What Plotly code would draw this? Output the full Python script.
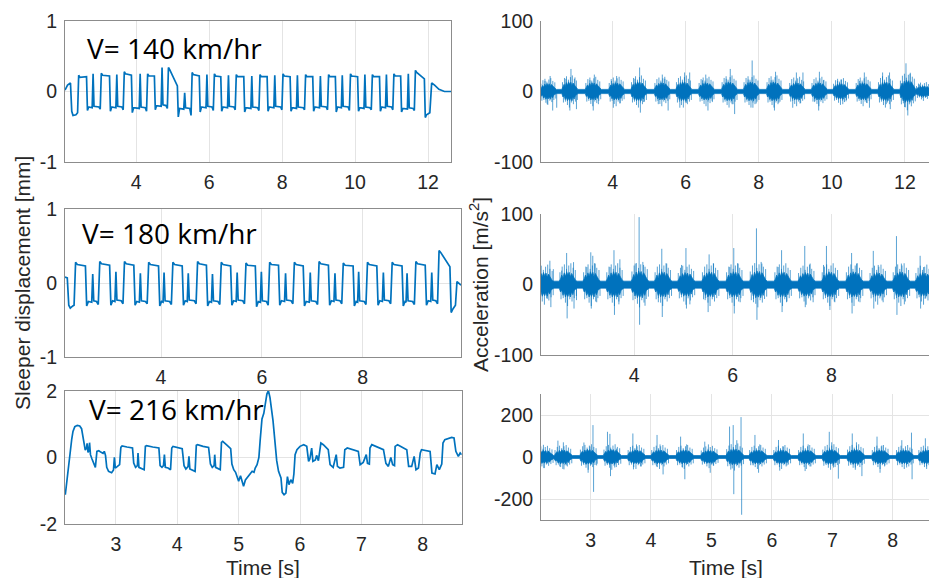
import plotly.graph_objects as go

# ------------------------------------------------------------------ data
# tick values
xt_top = [4, 6, 8, 10, 12]
xt_mid = [4, 6, 8]
xt_bot = [3, 4, 5, 6, 7, 8]
yt_disp12 = [-1, 0, 1]
yt_disp3 = [-2, 0, 2]
yt_acc12 = [-100, 0, 100]
yt_acc3 = [-200, 0, 200]

speed_labels = ["V= 140 km/hr", "V= 180 km/hr", "V= 216 km/hr"]

# --- sleeper displacement, V = 140 km/hr (mm)
d1_head_t = [2.05, 2.12, 2.20, 2.235, 2.27, 2.35, 2.395]
d1_head_v = [0.02, 0.09, 0.12, -0.28, -0.34, -0.33, -0.30]
d1_rise = [2.41, 3.03, 3.66, 4.30, 4.87, 5.52, 6.13, 6.73, 7.38, 8.01, 8.63, 9.26, 9.86, 10.46, 11.05, 11.64]
d1_drop = [2.64, 3.27, 3.87, 4.50, 5.13, 5.73, 6.32, 6.95, 7.59, 8.22, 8.84, 9.46, 10.07, 10.67, 11.25, 11.90]
d1_top = [0.20, 0.23, 0.25, 0.22, 0.31, 0.24, 0.22, 0.21, 0.21, 0.22, 0.21, 0.21, 0.22, 0.21, 0.22, 0.27]
d1_top_end = [0.21, 0.22, 0.23, 0.22, 0.08, 0.22, 0.21, 0.21, 0.21, 0.21, 0.21, 0.21, 0.21, 0.21, 0.22, 0.18]
d1_dip = [-0.27, -0.28, -0.30, -0.26, -0.36, -0.29, -0.28, -0.29, -0.28, -0.28, -0.28, -0.29, -0.28, -0.28, -0.29, -0.37]
d1_low = [-0.22, -0.22, -0.23, -0.20, -0.24, -0.22, -0.22, -0.23, -0.22, -0.23, -0.22, -0.22, -0.23, -0.22, -0.24, -0.33]
d1_spike_t = [2.82, 3.47, 4.11, 4.71, 5.33, 5.94, 6.53, 7.17, 7.80, 8.42, 9.05, 9.65, 10.27, 10.86, 11.46]
d1_spike_v = [0.25, 0.24, 0.25, 0.34, -0.02, 0.24, 0.23, 0.22, 0.23, 0.23, 0.22, 0.23, 0.24, 0.24, 0.25]
d1_tail_t = [12.05, 12.10, 12.18, 12.30, 12.45, 12.63]
d1_tail_v = [-0.30, 0.12, 0.09, 0.03, 0.0, 0.0]

# --- sleeper displacement, V = 180 km/hr (mm)
d2_head_t = [2.095, 2.14, 2.17, 2.20, 2.25, 2.275]
d2_head_v = [0.08, 0.07, -0.30, -0.34, -0.31, -0.30]
d2_rise = [2.29, 2.77, 3.26, 3.74, 4.22, 4.71, 5.18, 5.67, 6.14, 6.63, 7.12, 7.60, 8.08, 8.57, 9.04, 9.50]
d2_drop = [2.50, 2.98, 3.46, 3.95, 4.42, 4.90, 5.38, 5.87, 6.33, 6.82, 7.32, 7.81, 8.28, 8.78, 9.24, 9.73]
d2_top = [0.25, 0.26, 0.26, 0.25, 0.25, 0.26, 0.25, 0.24, 0.25, 0.25, 0.26, 0.24, 0.25, 0.25, 0.26, 0.41]
d2_top_end = [0.23, 0.24, 0.24, 0.23, 0.23, 0.24, 0.23, 0.23, 0.24, 0.23, 0.24, 0.23, 0.23, 0.23, 0.24, 0.22]
d2_dip = [-0.31, -0.30, -0.30, -0.31, -0.30, -0.31, -0.30, -0.32, -0.30, -0.31, -0.30, -0.31, -0.30, -0.31, -0.30, -0.40]
d2_low = [-0.25, -0.24, -0.25, -0.25, -0.24, -0.25, -0.24, -0.25, -0.24, -0.25, -0.24, -0.25, -0.24, -0.25, -0.24, -0.35]
d2_spike_t = [2.645, 3.105, 3.59, 4.06, 4.54, 5.02, 5.51, 5.99, 6.47, 6.96, 7.45, 7.92, 8.41, 8.88, 9.37]
d2_spike_v = [0.12, 0.15, 0.13, 0.14, 0.13, 0.12, 0.14, 0.15, 0.13, 0.14, 0.13, 0.15, 0.14, 0.13, 0.14]
d2_tail_t = [9.84, 9.87, 9.91, 9.95]
d2_tail_v = [-0.30, 0.02, -0.01, -0.03]

# --- sleeper displacement, V = 216 km/hr (mm)
d3_t = [2.175, 2.20, 2.22, 2.24, 2.26, 2.28, 2.30, 2.33, 2.37, 2.41, 2.44, 2.46, 2.48, 2.50, 2.52, 2.53,
        2.545, 2.56, 2.57, 2.585, 2.61, 2.64, 2.665, 2.69, 2.72, 2.76, 2.79, 2.81, 2.83, 2.85, 2.88, 2.93,
        2.96, 2.975, 2.99, 3.02, 3.06, 3.08, 3.10, 3.18, 3.27, 3.29, 3.32, 3.35, 3.36, 3.375, 3.42, 3.46,
        3.48, 3.50, 3.60, 3.70, 3.72, 3.75, 3.775, 3.79, 3.805, 3.85, 3.89, 3.91, 3.93, 4.00, 4.08, 4.11,
        4.14, 4.175, 4.19, 4.205, 4.25, 4.29, 4.31, 4.33, 4.42, 4.51, 4.54, 4.57, 4.60, 4.61, 4.625, 4.66,
        4.70, 4.72, 4.74, 4.80, 4.87, 4.89, 4.92, 4.95, 4.98, 5.00, 5.03, 5.06, 5.08, 5.11, 5.14, 5.17,
        5.22, 5.25, 5.27, 5.30, 5.33, 5.35, 5.38, 5.41, 5.43, 5.46, 5.485, 5.51, 5.56, 5.59, 5.62, 5.65,
        5.69, 5.71, 5.74, 5.77, 5.795, 5.82, 5.85, 5.88, 5.90, 5.92, 5.95, 6.00, 6.06, 6.11, 6.14, 6.16,
        6.19, 6.21, 6.25, 6.27, 6.30, 6.34, 6.38, 6.46, 6.49, 6.54, 6.59, 6.61, 6.65, 6.71, 6.73, 6.77,
        6.95, 6.98, 7.03, 7.08, 7.10, 7.13, 7.14, 7.17, 7.36, 7.40, 7.44, 7.48, 7.51, 7.54, 7.55, 7.59,
        7.74, 7.77, 7.82, 7.86, 7.89, 7.93, 7.96, 7.98, 8.12, 8.15, 8.20, 8.23, 8.27, 8.31, 8.33, 8.36,
        8.47, 8.51, 8.54, 8.58, 8.61, 8.635]
d3_v = [-1.12, -0.72, -0.35, -0.15, 0.35, 0.55, 0.78, 0.92, 0.96, 0.94, 0.86, 0.60, 0.35, 0.22, 0.28, 0.42,
        0.15, 0.20, 0.44, 0.08, -0.05, -0.22, -0.30, 0.18, 0.20, 0.15, 0.12, 0.18, 0.06, -0.30, -0.42, -0.46,
        -0.38, 0.00, -0.32, -0.28, -0.22, 0.30, 0.34, 0.31, 0.28, -0.17, -0.30, -0.25, 0.13, -0.30, -0.33, -0.37,
        0.33, 0.35, 0.31, 0.28, -0.25, -0.30, -0.25, 0.08, -0.30, -0.32, -0.37, 0.28, 0.33, 0.30, 0.26, -0.25,
        -0.35, -0.28, 0.03, -0.35, -0.38, -0.42, 0.36, 0.38, 0.33, 0.30, -0.20, -0.30, -0.25, 0.08, -0.30, -0.33,
        -0.37, 0.45, 0.48, 0.38, 0.26, -0.20, -0.37, -0.45, -0.62, -0.72, -0.55, -0.80, -0.87, -0.68, -0.60, -0.52,
        -0.42, -0.45, -0.32, -0.22, 0.00, 0.50, 1.15, 1.32, 1.55, 1.90, 2.00, 1.80, 1.10, 0.48, -0.10, -0.42,
        -0.62, -1.05, -1.12, -1.07, -0.58, -0.82, -0.67, -0.78, -0.50, 0.08, 0.23, 0.33, 0.38, 0.33, -0.12, -0.05,
        0.28, -0.12, -0.08, 0.06, -0.10, 0.43, 0.38, 0.23, -0.22, -0.30, 0.08, -0.27, -0.32, -0.30, 0.23, 0.28,
        0.18, -0.22, -0.15, 0.08, -0.18, -0.20, 0.28, 0.38, 0.23, -0.18, -0.27, 0.00, -0.22, -0.25, 0.33, 0.38,
        0.23, -0.27, -0.27, 0.03, -0.37, -0.32, 0.13, 0.23, 0.18, -0.47, -0.50, -0.22, -0.37, -0.20, 0.43, 0.53,
        0.60, 0.58, 0.18, 0.03, 0.13, 0.08]

# --- acceleration, V = 140 km/hr (m/s^2): burst centres / core amplitude / spikes
a1_burst_t = [2.24, 2.83, 3.47, 4.11, 4.72, 5.36, 5.95, 6.57, 7.20, 7.80, 8.43, 9.05, 9.66, 10.25, 10.87, 11.48, 12.08, 12.52]
a1_burst_a = [10, 12, 11, 11, 12, 11, 12, 11, 12, 12, 12, 11, 11, 10, 11, 12, 14, 7]
a1_spike_t = [2.15, 2.21, 2.29, 2.36, 2.47, 2.72, 2.83, 2.86, 2.97, 3.01, 3.38, 3.47, 3.50, 3.61,
              3.97, 4.02, 4.11, 4.20, 4.61, 4.74, 4.76, 4.85, 5.25, 5.36, 5.43, 5.52, 5.84, 5.97,
              6.02, 6.11, 6.46, 6.55, 6.61, 6.73, 7.11, 7.22, 7.27, 7.34, 7.71, 7.82, 7.84, 7.93,
              8.34, 8.43, 8.46, 8.55, 8.93, 9.03, 9.13, 9.21, 9.53, 9.64, 9.66, 9.77, 10.16, 10.25,
              10.30, 10.39, 10.76, 10.89, 10.95, 11.03, 11.39, 11.49, 11.58, 11.60, 11.99, 12.03,
              12.08, 12.14, 12.40, 12.49]
a1_spike_v = [15, -18, 22, -27, -23, 18, -27, 32, 20, -25, 16, -27, 24, -18,
              15, -23, 22, -17, 18, 34, -30, -15, -18, 24, 18, -27, -23, 27,
              -16, 27, 16, 24, -27, -15, 18, 32, -18, -32, 17, 44, -23, -17,
              16, -27, 28, -16, -23, 27, -17, 27, -15, -27, 28, 16, 15, 17,
              -18, -14, 15, 27, -16, -23, 27, -18, 27, -25, -22, 40,
              -34, 25, 10, -9]

# --- acceleration, V = 180 km/hr
a2_burst_t = [2.19, 2.66, 3.14, 3.61, 4.12, 4.59, 5.06, 5.55, 6.04, 6.52, 7.02, 7.50, 7.98, 8.47, 8.95, 9.42, 9.88]
a2_burst_a = [15, 16, 16, 16, 17, 16, 15, 16, 16, 17, 16, 15, 16, 16, 15, 16, 15]
a2_spike_t = [2.16, 2.24, 2.29, 2.31, 2.36, 2.53, 2.63, 2.64, 2.77, 2.78, 2.83, 3.04, 3.12, 3.13, 3.16,
              3.21, 3.24, 3.51, 3.59, 3.60, 3.69, 3.71, 4.02, 4.10, 4.11, 4.19, 4.22, 4.49, 4.56, 4.57,
              4.66, 4.96, 5.05, 5.06, 5.13, 5.44, 5.50, 5.52, 5.61, 5.94, 6.02, 6.03, 6.11, 6.15, 6.42,
              6.48, 6.49, 6.59, 6.92, 6.99, 7.00, 7.09, 7.46, 7.47, 7.57, 7.63, 7.84, 7.90, 7.97, 8.07,
              8.41, 8.42, 8.51, 8.58, 8.85, 8.86, 8.95, 9.05, 9.32, 9.33, 9.42, 9.48, 9.80, 9.81, 9.87, 9.90]
a2_spike_v = [17, -20, 34, -32, 22, 20, 45, -48, 32, -34, -22, 25, 46, -34, 41,
              30, -25, 25, 49, -43, -28, 36, 30, 96, -57, 28, -30, -25, 51, -46,
              30, 28, 52, -34, -28, -22, -39, 43, 30, 25, 52, -41, 30, -25, -25,
              80, -50, 30, 25, 49, -39, -25, 55, -32, 30, -25, 28, 55, -36, -25,
              45, -41, 30, -25, 48, -34, 28, -25, 69, -43, 30, -28, 41, -34, 25, -20]

# --- acceleration, V = 216 km/hr
a3_burst_t = [2.24, 2.55, 2.97, 3.36, 3.76, 4.15, 4.56, 4.97, 5.39, 5.77, 6.17, 6.58, 6.98, 7.39, 7.80, 8.20, 8.57]
a3_burst_a = [28, 30, 32, 32, 30, 30, 30, 28, 34, 30, 30, 30, 32, 32, 30, 30, 30]
a3_spike_t = [2.16, 2.22, 2.23, 2.30, 2.46, 2.49, 2.55, 2.56, 2.60, 2.89, 2.96, 2.99, 3.04, 3.05, 3.10,
              3.28, 3.32, 3.33, 3.40, 3.43, 3.70, 3.71, 3.76, 3.84, 4.09, 4.10, 4.15, 4.20, 4.49, 4.52,
              4.56, 4.59, 4.89, 4.95, 4.98, 5.03, 5.30, 5.32, 5.36, 5.37, 5.42, 5.49, 5.50, 5.69, 5.72,
              5.78, 5.80, 6.11, 6.13, 6.19, 6.25, 6.52, 6.55, 6.60, 6.63, 6.95, 6.99, 7.02, 7.10, 7.33,
              7.38, 7.40, 7.49, 7.74, 7.79, 7.82, 7.87, 8.15, 8.23, 8.31, 8.32, 8.54, 8.56]
a3_spike_v = [-25, 58, -52, 30, 78, -45, 70, -59, -40, 69, -75, 50, 152, -166, -40,
              120, 110, -91, -50, 40, 112, -59, 60, -45, -45, 105, 60, -83, 97, -50,
              -106, 60, 73, 60, -75, -40, 145, -60, 152, -177, 80, 190, -275, -40, 105,
              -75, 60, 81, -65, 50, -40, 112, -67, 60, -45, 120, 70, -50, -103, 112,
              -50, 70, -91, 97, -75, 55, -40, 80, -50, 116, -106, 89, -45]

# ------------------------------------------------------------------ style
BLUE = "#0072BD"
HAIR = "rgba(0,114,189,0.65)"
AXC = "#8c8c8c"
GRID = "#e4e4e4"
TXT = "#262626"
W, H = 929, 578
TICKFONT = dict(family="Liberation Sans, Arial, sans-serif", size=19.5, color=TXT)
LABFONT = dict(family="Liberation Sans, Arial, sans-serif", size=21, color=TXT)
VFONT = dict(family="Open Sans, sans-serif", size=28, color="black")

# ragged outline / hair pattern used to draw each burst's dense core (drawing style only)
RAG_F = [-1.0, -0.86, -0.72, -0.58, -0.44, -0.3, -0.16, -0.02, 0.12, 0.26, 0.4, 0.54, 0.68, 0.82, 1.0]
RAG_U = [0.0, 0.5, 0.85, 0.6, 1.05, 0.75, 1.15, 0.85, 1.1, 0.7, 1.0, 0.8, 0.6, 0.4, 0.0]
RAG_L = [0.0, 0.65, 0.5, 0.95, 0.7, 1.1, 0.8, 1.05, 0.75, 1.1, 0.65, 0.9, 0.5, 0.45, 0.0]
HAIR_F = [-0.92, -0.8, -0.67, -0.55, -0.42, -0.3, -0.18, -0.06, 0.07, 0.19, 0.31, 0.44, 0.56, 0.69, 0.81, 0.93]
HAIR_G = [1.1, -1.3, 1.6, -1.2, 1.8, -1.6, 1.4, -1.9, 1.7, -1.3, 1.9, -1.5, 1.5, -1.2, 1.3, -1.0]


def build_disp(head_t, head_v, rise, drop, top, top_end, dip, low, sp_t, sp_v, tail_t, tail_v, hw):
    t = list(head_t)
    v = list(head_v)
    n = len(rise)
    for i in range(n):
        r, d = rise[i], drop[i]
        t += [r + 0.015, r + 0.05, d, d + 0.025, d + 0.06]
        v += [top[i] + 0.03, top[i], top_end[i], dip[i], low[i]]
        if i < len(sp_t) and i + 1 < n:
            s, nr = sp_t[i], rise[i + 1]
            t += [s - hw, s, s + hw, nr - 0.05, nr - 0.015]
            v += [low[i] - 0.01, sp_v[i], low[i] + 0.01, low[i], dip[i] + 0.02]
    t += list(tail_t)
    v += list(tail_v)
    return t, v


def build_env(bt, ba, hw, q, t0, t1):
    ut, uv, lv = [t0], [q], [q]
    for c, a in zip(bt, ba):
        for f, gu, gl in zip(RAG_F, RAG_U, RAG_L):
            ut.append(c + f * hw)
            uv.append(max(q, gu * a))
            lv.append(max(q, gl * a))
    ut.append(t1)
    uv.append(q)
    lv.append(q)
    xs = ut + ut[::-1] + [ut[0]]
    ys = uv + [-y for y in lv[::-1]] + [uv[0]]
    return xs, ys


def build_spikes(st, sv, bt, ba, hw):
    x, y = [], []
    for t, v in zip(st, sv):
        x += [t, t, None]
        y += [0, v, None]
    for c, a in zip(bt, ba):
        for f, g in zip(HAIR_F, HAIR_G):
            x += [c + f * hw, c + f * hw, None]
            y += [0, g * a, None]
    return x, y


fig = go.Figure()

# displacement traces
x1, y1 = build_disp(d1_head_t, d1_head_v, d1_rise, d1_drop, d1_top, d1_top_end, d1_dip, d1_low,
                    d1_spike_t, d1_spike_v, d1_tail_t, d1_tail_v, 0.025)
x3, y3 = build_disp(d2_head_t, d2_head_v, d2_rise, d2_drop, d2_top, d2_top_end, d2_dip, d2_low,
                    d2_spike_t, d2_spike_v, d2_tail_t, d2_tail_v, 0.02)
for (xx, yy, ax) in [(x1, y1, "1"), (x3, y3, "3"), (d3_t, d3_v, "5")]:
    fig.add_trace(go.Scatter(x=xx, y=yy, mode="lines", line=dict(color=BLUE, width=1.7),
                             xaxis="x" + ax, yaxis="y" + ax, hoverinfo="skip"))

# acceleration traces
acc = [(a1_burst_t, a1_burst_a, a1_spike_t, a1_spike_v, 0.22, 3, "2"),
       (a2_burst_t, a2_burst_a, a2_spike_t, a2_spike_v, 0.18, 5, "4"),
       (a3_burst_t, a3_burst_a, a3_spike_t, a3_spike_v, 0.15, 7, "6")]
for bt, ba, st, sv, hw, q, ax in acc:
    sx, sy = build_spikes(st, sv, bt, ba, hw)
    fig.add_trace(go.Scatter(x=sx, y=sy, mode="lines", line=dict(color=HAIR, width=1),
                             xaxis="x" + ax, yaxis="y" + ax, hoverinfo="skip"))
    ex, ey = build_env(bt, ba, hw, q, 1.9, 13.0)
    fig.add_trace(go.Scatter(x=ex, y=ey, mode="lines", fill="toself", fillcolor=BLUE,
                             line=dict(color=BLUE, width=0.7),
                             xaxis="x" + ax, yaxis="y" + ax, hoverinfo="skip"))

# panel geometry (pixels)
panels = [
    dict(xd=(65, 451), yd=(21, 162), xr=[2.05, 12.63], yr=[-1, 1], xt=xt_top, yt=yt_disp12, box=True),
    dict(xd=(541, 929), yd=(21, 162), xr=[2.04, 12.66], yr=[-100, 100], xt=xt_top, yt=yt_acc12, box=False),
    dict(xd=(65, 461), yd=(209, 357), xr=[2.095, 9.95], yr=[-1, 1], xt=xt_mid, yt=yt_disp12, box=True),
    dict(xd=(541, 929), yd=(214.3, 355), xr=[2.11, 9.98], yr=[-100, 100], xt=xt_mid, yt=yt_acc12, box=False),
    dict(xd=(65, 461.7), yd=(390.7, 524), xr=[2.17, 8.635], yr=[-2, 2], xt=xt_bot, yt=yt_disp3, box=True),
    dict(xd=(541, 929), yd=(394, 520), xr=[2.18, 8.60], yr=[-300, 300], xt=xt_bot, yt=yt_acc3, box=False),
]

layout = dict(width=W, height=H, margin=dict(l=0, r=0, t=0, b=0, pad=0, autoexpand=False),
              paper_bgcolor="white", plot_bgcolor="white", showlegend=False)
for i, p in enumerate(panels, start=1):
    sfx = "" if i == 1 else str(i)
    common = dict(showgrid=True, gridcolor=GRID, gridwidth=1, zeroline=False, showline=True,
                  linecolor=AXC, linewidth=1, mirror=p["box"], ticks="", tickfont=TICKFONT,
                  fixedrange=True, automargin=False)
    layout["xaxis" + sfx] = dict(common, domain=[p["xd"][0] / W, p["xd"][1] / W], range=p["xr"],
                                 tickvals=p["xt"], ticktext=[str(v) for v in p["xt"]],
                                 anchor="y" + str(i), ticklabelstandoff=3)
    layout["yaxis" + sfx] = dict(common, domain=[1 - p["yd"][1] / H, 1 - p["yd"][0] / H], range=p["yr"],
                                 tickvals=p["yt"], ticktext=[str(v) for v in p["yt"]],
                                 anchor="x" + str(i), ticklabelstandoff=3)

ann = [
    dict(text="Sleeper displacement [mm]", x=22 / W, y=1 - 283 / H, textangle=-90, font=LABFONT),
    dict(text="Acceleration [m/s<sup>2</sup>]", x=479 / W, y=1 - 285 / H, textangle=-90, font=LABFONT),
    dict(text="Time [s]", x=263 / W, y=1 - 567 / H, font=LABFONT),
    dict(text="Time [s]", x=726 / W, y=1 - 567 / H, font=LABFONT),
]
for a in ann:
    a.update(xref="paper", yref="paper", showarrow=False, xanchor="center", yanchor="middle")
for txt, px, py in zip(speed_labels, [85, 80, 87], [48, 233, 409]):
    ann.append(dict(text=txt, x=px / W, y=1 - py / H, xref="paper", yref="paper", showarrow=False,
                    xanchor="left", yanchor="middle", font=VFONT))
layout["annotations"] = ann

fig.update_layout(**layout)
fig.write_html("out.html")
